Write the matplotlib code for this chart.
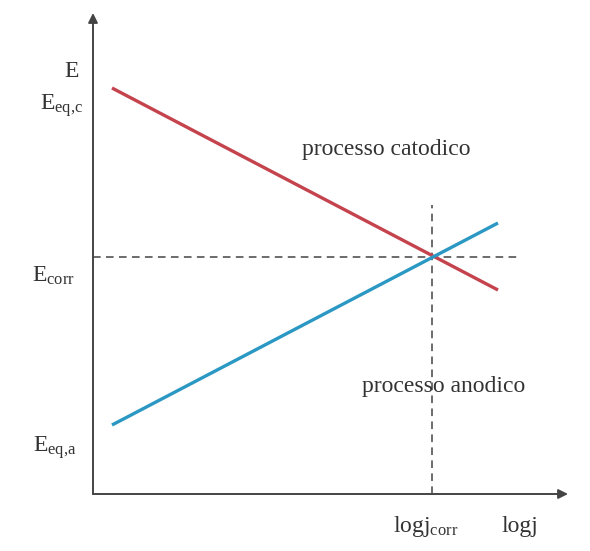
import matplotlib.pyplot as plt

plt.rcParams["font.family"] = "Liberation Serif"
plt.rcParams["mathtext.fontset"] = "custom"
plt.rcParams["mathtext.rm"] = "Liberation Serif"
plt.rcParams["mathtext.it"] = "Liberation Serif"

# schematic Tafel lines (log j on x, E on y), origin = axis corner
logj_line = [0.19, 4.05]
E_cathodic = [4.06, 2.04]
E_anodic = [0.69, 2.71]
logj_corr = 3.39
E_corr = 2.37

fig = plt.figure(figsize=(5.9, 5.51), dpi=100)
ax = fig.add_axes([0, 0, 1, 1])
ax.set_xlim(-0.93, 4.97)
ax.set_ylim(-0.57, 4.94)
ax.axis("off")

axis_col = "#444444"
# axes with arrows
ax.annotate("", xy=(0, 4.81), xytext=(0, 0),
            arrowprops=dict(arrowstyle="-|>", color=axis_col, lw=1.4,
                            mutation_scale=14, shrinkA=0, shrinkB=0))
ax.annotate("", xy=(4.75, 0), xytext=(0, 0),
            arrowprops=dict(arrowstyle="-|>", color=axis_col, lw=1.4,
                            mutation_scale=14, shrinkA=0, shrinkB=0))

# dashed guides
ax.plot([0, 4.24], [E_corr, E_corr], ls=(0, (5, 3.5)), color=axis_col, lw=1.1)
ax.plot([logj_corr, logj_corr], [0, 2.89], ls=(0, (5, 3.5)), color=axis_col, lw=1.1)

# cathodic and anodic lines
ax.plot(logj_line, E_cathodic, color="#c4434d", lw=2.4, solid_capstyle="butt")
ax.plot(logj_line, E_anodic, color="#2b98c4", lw=2.4, solid_capstyle="butt")

fs = 17
tc = "#333333"
ax.text(-0.14, 4.17, "E", fontsize=fs, ha="right", va="baseline", color=tc)
ax.text(-0.10, 3.84, r"E$_{\mathrm{eq{,}c}}$", fontsize=fs, ha="right", va="baseline", color=tc)
ax.text(-0.18, 2.12, r"E$_{\mathrm{corr}}$", fontsize=fs, ha="right", va="baseline", color=tc)
ax.text(-0.16, 0.42, r"E$_{\mathrm{eq{,}a}}$", fontsize=fs, ha="right", va="baseline", color=tc)
ax.text(3.33, -0.38, r"logj$_{\mathrm{corr}}$", fontsize=fs, ha="center", va="baseline", color=tc)
ax.text(4.27, -0.38, "logj", fontsize=fs, ha="center", va="baseline", color=tc)
ax.text(2.09, 3.39, "processo catodico", fontsize=fs, ha="left", va="baseline", color=tc)
ax.text(2.69, 1.02, "processo anodico", fontsize=fs, ha="left", va="baseline", color=tc)

fig.savefig("out.png", dpi=100, facecolor="white")
